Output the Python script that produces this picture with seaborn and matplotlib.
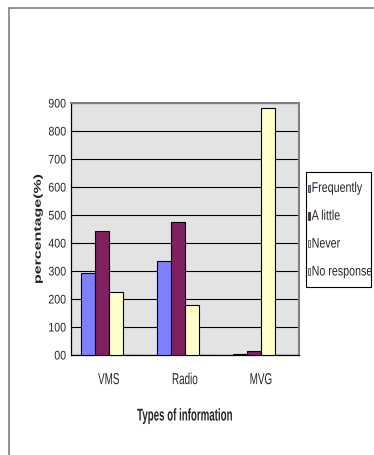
import matplotlib
matplotlib.use("Agg")
import matplotlib.pyplot as plt
from matplotlib.patches import Rectangle
from matplotlib.lines import Line2D
from matplotlib.patheffects import AbstractPathEffect
from matplotlib.transforms import Affine2D
import seaborn as sns
import pandas as pd

# Survey answers per information type (percent of respondents)
info_types = ["VMS", "Radio", "MVG"]
responses = ["Frequently", "A little", "Never", "No response"]
frequently = [29.4, 33.6, 0.5]
a_little = [44.4, 47.6, 1.5]
never = [22.4, 17.7, 88.3]
no_response = [0.0, 0.0, 0.0]
y_ticks = [0, 10, 20, 30, 40, 50, 60, 70, 80, 90]
y_tick_labels = ["00", "100", "200", "300", "400", "500", "600", "700", "800", "900"]

colors = ["#8080FF", "#802060", "#FFFFCC", "#CCFFFF"]


class Stretch(AbstractPathEffect):
    """Rescale glyph outlines in the text's own coordinates.

    hx gives the fraction of the text width that stays fixed
    (0 = left, 0.5 = centre, 1 = right); hy=None keeps the baseline fixed,
    otherwise it is the fraction of the glyph height that stays put.
    """

    def __init__(self, sx=1.0, sy=1.0, hx=0.0, hy=None):
        super().__init__()
        self.sx, self.sy, self.hx, self.hy = sx, sy, hx, hy

    def draw_path(self, renderer, gc, tpath, affine, rgbFace=None):
        if len(tpath.vertices) == 0:
            return
        ext = tpath.get_extents()
        cx = ext.x0 + self.hx * (ext.x1 - ext.x0)
        cy = 0.0 if self.hy is None else ext.y0 + self.hy * (ext.y1 - ext.y0)
        pre = Affine2D().translate(-cx, -cy).scale(self.sx, self.sy).translate(cx, cy)
        renderer.draw_path(gc, tpath, pre + affine, rgbFace)


rows = []
for series_name, vals in zip(responses, [frequently, a_little, never, no_response]):
    for cat, v in zip(info_types, vals):
        rows.append({"type": cat, "response": series_name, "pct": v})
df = pd.DataFrame(rows)

sns.set_style("white")
plt.rcParams["font.family"] = ["Liberation Sans", "DejaVu Sans"]

W, H = 374, 455
fig = plt.figure(figsize=(W / 100, H / 100), dpi=100)
ax = fig.add_axes([70.7 / W, 1 - 355 / H, (299 - 70.7) / W, (355 - 103) / H])

sns.barplot(data=df, x="type", y="pct", hue="response", order=info_types,
            hue_order=responses, palette=colors, width=0.737, gap=0,
            edgecolor="black", linewidth=0.8, saturation=1, ax=ax, legend=False, zorder=3)

ax.set_facecolor("#E3E3E3")
ax.set_xlim(-0.5, 2.5)
ax.set_ylim(0, 90)
ax.set_yticks(y_ticks)
ax.set_yticklabels(y_tick_labels, fontsize=9)
ax.yaxis.grid(True, color="black", linewidth=0.8)
ax.set_axisbelow(True)

ax.set_xticks(range(len(info_types)))
ax.set_xticklabels(info_types, fontsize=7.1)
ax.set_xticks([-0.5, 0.5, 1.5, 2.5], minor=True)
ax.tick_params(axis="x", which="major", length=0, pad=15.2)
ax.tick_params(axis="x", which="minor", length=6, direction="inout", width=0.8, color="black")
ax.tick_params(axis="y", which="major", length=2.7, direction="out", width=0.8, pad=0.5, color="black")

for lbl in ax.get_yticklabels():
    lbl.set_path_effects([Stretch(sx=0.85, hx=1.0, hy=0.5)])
for lbl in ax.get_xticklabels():
    lbl.set_path_effects([Stretch(sy=1.61)])

for side in ["left", "bottom"]:
    ax.spines[side].set_color("black")
    ax.spines[side].set_linewidth(0.9)
for side in ["top", "right"]:
    ax.spines[side].set_color("#808080")
    ax.spines[side].set_linewidth(1.5)

xl = ax.set_xlabel("Types of information", fontsize=7, fontweight="bold", labelpad=19)
xl.set_path_effects([Stretch(sy=1.75)])
yl = ax.set_ylabel("percentage(%)", fontsize=11.5, fontweight="bold", labelpad=2)
yl.set_path_effects([Stretch(sy=0.63, hy=0.0)])

handles = [Rectangle((0, 0), 1, 1, facecolor=c, edgecolor="black", linewidth=0.4) for c in colors]
leg = fig.legend(handles, responses,
                 loc="upper left", bbox_to_anchor=(307.7 / W, 1 - 183.9 / H),
                 bbox_transform=fig.transFigure, fontsize=7.7, frameon=False,
                 handlelength=0.25, handleheight=0.65, handletextpad=0.12,
                 labelspacing=1.67, borderpad=0, borderaxespad=0)
for t in leg.get_texts():
    t.set_path_effects([Stretch(sy=1.31)])
fig.add_artist(Rectangle((306 / W, 1 - 287 / H), 65 / W, 115 / H, transform=fig.transFigure,
                         fill=False, edgecolor="black", linewidth=0.8))

# outer chart frame
fig.add_artist(Line2D([9 / W, 9 / W], [0, 1 - 8 / H], transform=fig.transFigure,
                      color="#808080", linewidth=1.2))
fig.add_artist(Line2D([9 / W, 1], [1 - 8 / H, 1 - 8 / H], transform=fig.transFigure,
                      color="#808080", linewidth=1.2))

fig.savefig("out.png", dpi=100)
